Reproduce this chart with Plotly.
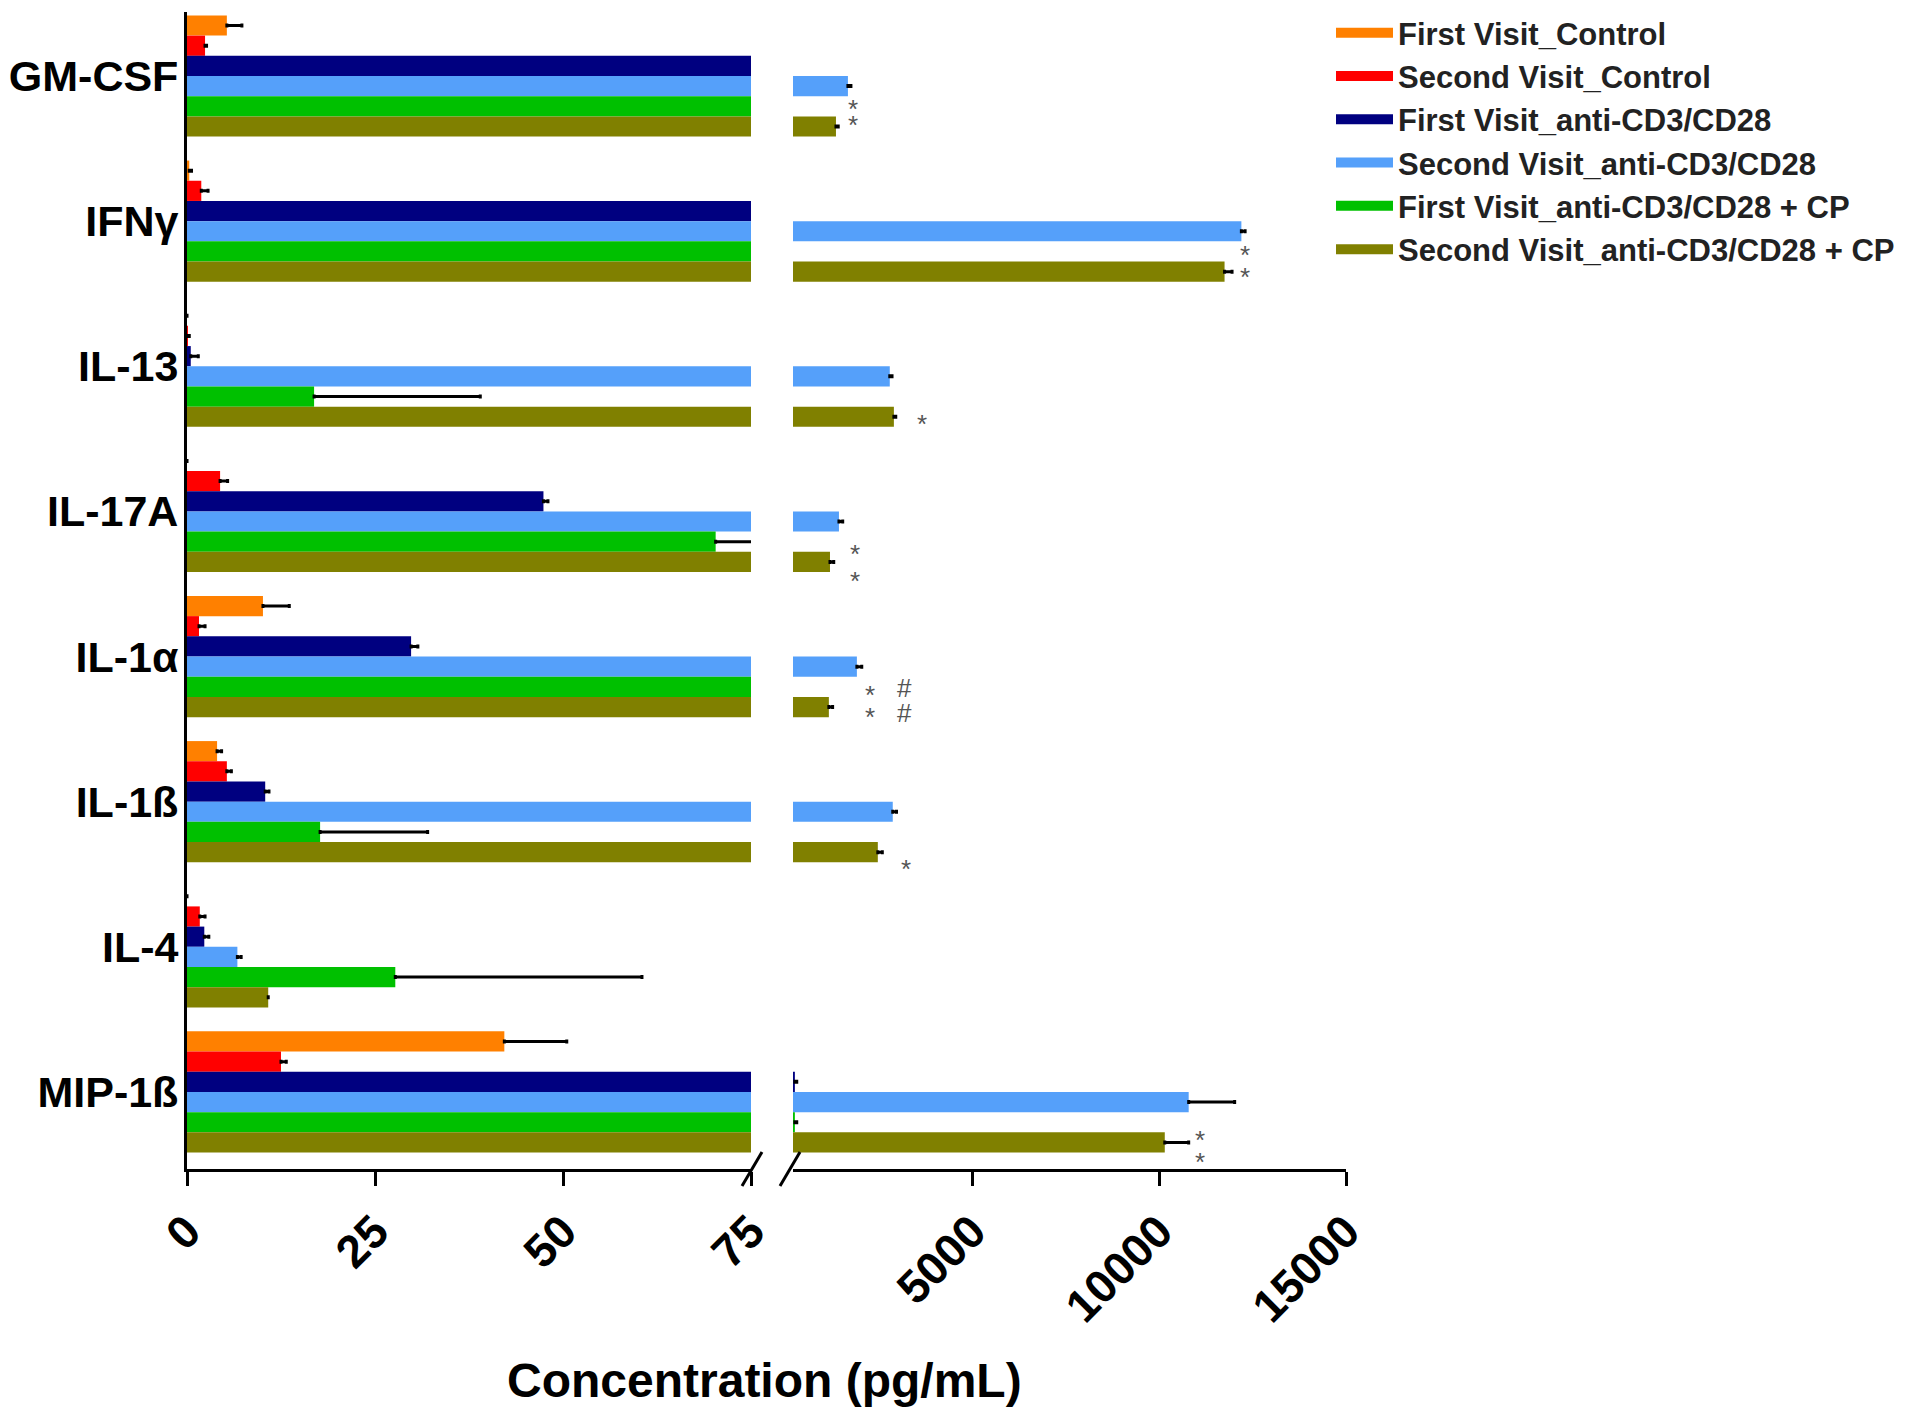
import plotly.graph_objects as go

# ---------------- data ----------------
categories = ["GM-CSF", "IFNγ", "IL-13", "IL-17A", "IL-1α", "IL-1ß", "IL-4", "MIP-1ß"]
series_names = [
    "First Visit_Control",
    "Second Visit_Control",
    "First Visit_anti-CD3/CD28",
    "Second Visit_anti-CD3/CD28",
    "First Visit_anti-CD3/CD28 + CP",
    "Second Visit_anti-CD3/CD28 + CP",
]
colors = ["#FF8000", "#FF0000", "#000080", "#55A0FA", "#00C000", "#808000"]

first_control = [5.3, 0.3, 0.0, 0.0, 10.1, 4.0, 0.0, 42.2]
first_control_err = [2.0, 0.3, 0.0, 0.0, 3.5, 0.6, 0.0, 8.3]
second_control = [2.4, 1.9, 0.1, 4.4, 1.6, 5.3, 1.7, 12.5]
second_control_err = [0.2, 0.9, 0.2, 1.0, 0.8, 0.6, 0.7, 0.7]
first_cd = [150, 150, 0.5, 47.4, 29.8, 10.4, 2.3, 250]
first_cd_err = [5, 5, 1.0, 0.6, 0.9, 0.5, 0.6, 50]
second_cd = [1670, 12200, 2790, 1430, 1910, 2870, 6.7, 10790]
second_cd_err = [80, 100, 60, 100, 130, 100, 0.5, 1230]
first_cp = [150, 150, 16.9, 70.3, 150, 17.7, 27.7, 250]
first_cp_err = [5, 5, 22.1, 8.0, 5, 14.3, 32.8, 50]
second_cp = [1350, 11750, 2900, 1190, 1160, 2470, 10.8, 10150]
second_cp_err = [60, 200, 50, 100, 100, 120, 0.0, 640]

values = [first_control, second_control, first_cd, second_cd, first_cp, second_cp]
errors = [first_control_err, second_control_err, first_cd_err, second_cd_err, first_cp_err, second_cp_err]

left_ticks = [0, 25, 50, 75]
left_tick_text = ["0", "25", "50", "75"]
right_ticks = [5000, 10000, 15000]
right_tick_text = ["5000", "10000", "15000"]

# significance marks (category index + row position, value on the right segment)
mark_pos = [0.227, 0.338, 1.234, 1.386, 2.40, 3.296, 3.482, 4.262, 4.420, 4.214, 4.386, 5.462, 7.331, 7.482]
mark_val = [1804, 1804, 12285, 12285, 3650, 1858, 1858, 2259, 2259, 3195, 3195, 3221, 11083, 11083]
mark_text = ["*", "*", "*", "*", "*", "*", "*", "*", "*", "#", "#", "*", "*", "*"]

# ---------------- layout helpers ----------------
W, H = 1920, 1411
FONT = "Liberation Sans, Arial, sans-serif"


def px(x):
    return x / W


def py(y):
    return 1 - y / H


fig = go.Figure()

for xa in ["x", "x2"]:
    for name, col, v, e in zip(series_names, colors, values, errors):
        fig.add_trace(go.Bar(
            y=categories, x=v, orientation="h", name=name,
            marker=dict(color=col, line=dict(width=0)),
            error_x=dict(type="data", array=e, arrayminus=[0] * len(e), symmetric=False,
                         color="black", thickness=3, width=2),
            xaxis=xa, yaxis="y", showlegend=False,
        ))

for name, col in zip(series_names, colors):
    fig.add_trace(go.Scatter(
        x=[None], y=[None], mode="lines", name=name,
        line=dict(color=col, width=10), xaxis="x2", yaxis="y", showlegend=True,
    ))

axis_common = dict(
    ticks="outside", ticklen=14, tickwidth=3, tickcolor="black",
    showline=True, linewidth=3, linecolor="black",
    showgrid=False, zeroline=False, tickangle=-45, automargin=False,
    tickfont=dict(size=46, family=FONT, color="black", weight="bold"),
    anchor="y",
)

fig.update_layout(
    width=W, height=H,
    margin=dict(l=0, r=0, t=0, b=0, autoexpand=False),
    plot_bgcolor="white", paper_bgcolor="white",
    barmode="group", bargap=0.165, bargroupgap=0,
    xaxis=dict(domain=[px(187), px(751)], range=[0, 75], tickvals=left_ticks,
               ticktext=left_tick_text, **axis_common),
    xaxis2=dict(domain=[px(793), px(1346)], range=[200, 15000], tickvals=right_ticks,
                ticktext=right_tick_text, **axis_common),
    yaxis=dict(
        domain=[py(1169), py(12)], range=[7.531, -0.441],
        type="category", categoryorder="array", categoryarray=categories,
        showline=True, linewidth=3, linecolor="black", ticks="",
        showgrid=False, zeroline=False, anchor="x", ticklabelstandoff=-3,
        automargin=False,
        tickfont=dict(size=43, family=FONT, color="black", weight="bold"),
    ),
    legend=dict(
        x=px(1331), y=py(6), xanchor="left", yanchor="top",
        font=dict(size=31, family=FONT, color="#222222", weight="bold"),
        itemwidth=57, tracegroupgap=0, bgcolor="rgba(0,0,0,0)",
    ),
    showlegend=True,
)

# axis break marks
for x0, x1 in [(742, 762), (780, 800)]:
    fig.add_shape(type="line", xref="paper", yref="paper",
                  x0=px(x0), y0=py(1186), x1=px(x1), y1=py(1152),
                  line=dict(color="black", width=3))

# significance marks
for pos, val, txt in zip(mark_pos, mark_val, mark_text):
    fig.add_annotation(x=val, y=pos, xref="x2", yref="y", text=txt, showarrow=False,
                       font=dict(size=26, family=FONT, color="#555555"),
                       xanchor="center", yanchor="middle")

# axis title
fig.add_annotation(x=px(764), y=py(1380), xref="paper", yref="paper",
                   text="Concentration (pg/mL)", showarrow=False,
                   font=dict(size=48, family=FONT, color="black", weight="bold"),
                   xanchor="center", yanchor="middle")

fig.write_html("out.html", config={"displayModeBar": False},
               post_script="document.body.style.margin='0';")
